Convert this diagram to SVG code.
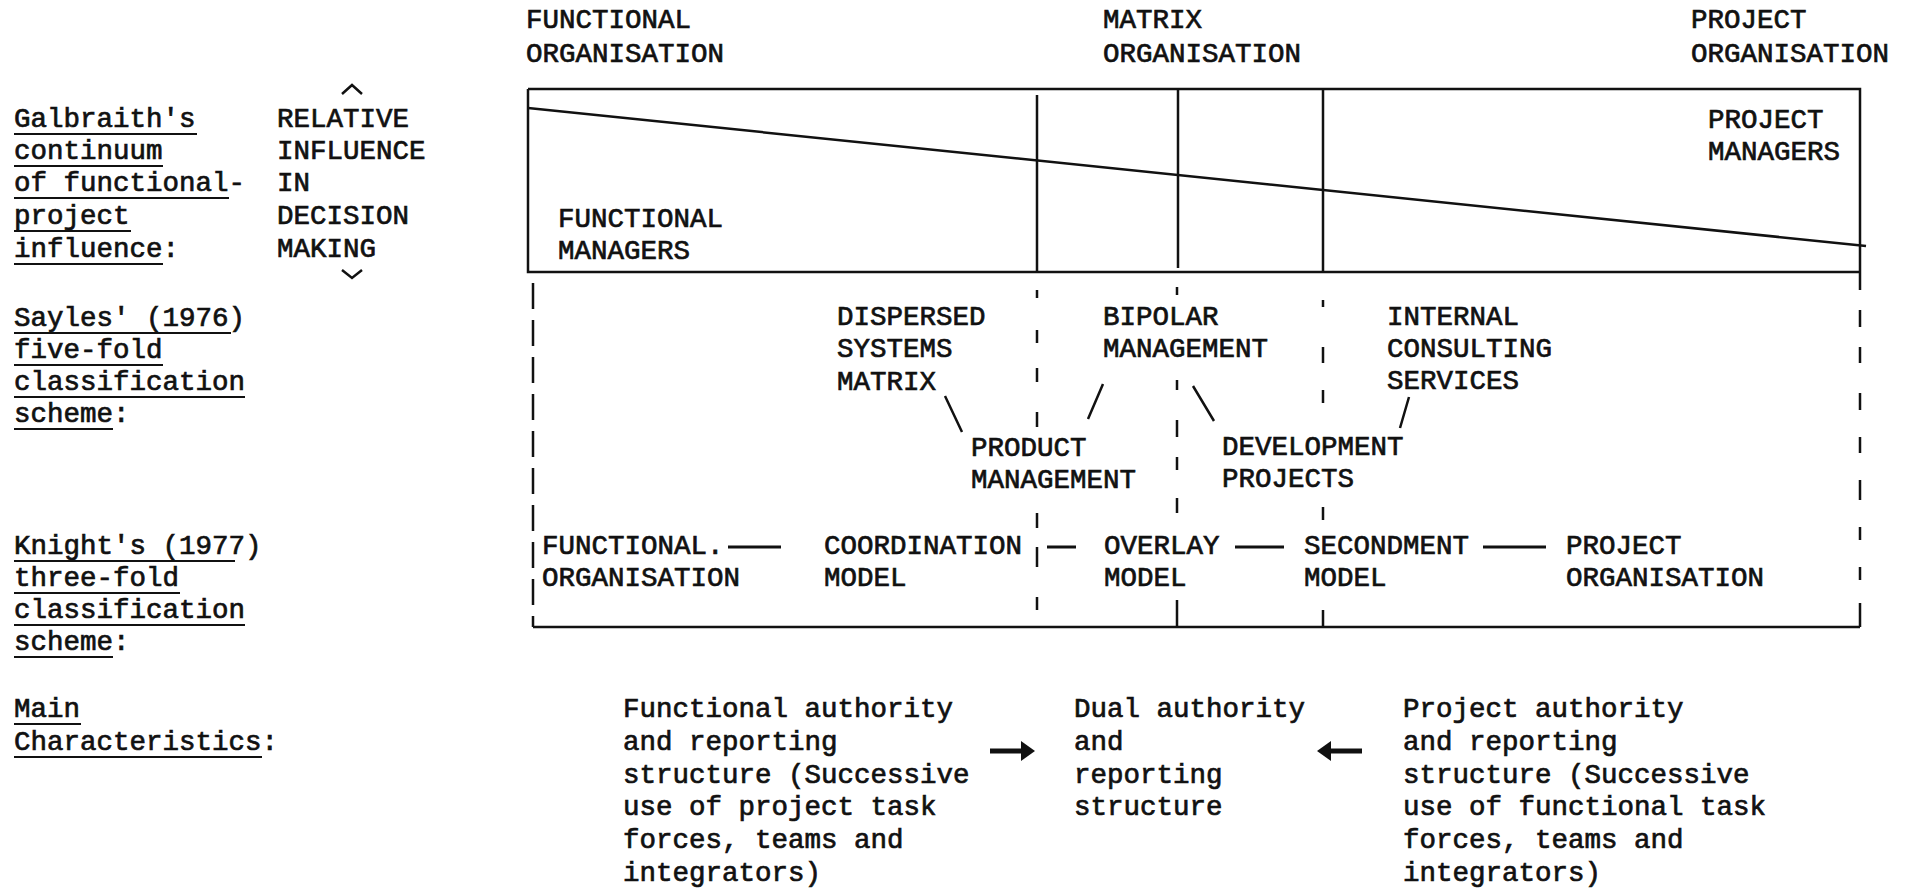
<svg xmlns="http://www.w3.org/2000/svg" width="1905" height="889" viewBox="0 0 1905 889">
<style>
text{font-family:"Liberation Mono","Courier New",monospace;font-size:27.5px;fill:#111;stroke:#111;stroke-width:0.7px}
.ln{stroke:#111;stroke-width:2.5;fill:none;stroke-linecap:butt}
.ul{stroke:#111;stroke-width:2;fill:none}
.dash{stroke:#111;stroke-width:3;fill:none}
</style>
<defs>
<marker id="ah" viewBox="0 0 14 20" refX="1" refY="10" markerWidth="14" markerHeight="20" markerUnits="userSpaceOnUse" orient="auto">
<path d="M0,0 L14,10 L0,20 Z" fill="#111"/>
</marker>
</defs>
<rect width="1905" height="889" fill="#fff"/>

<g id="labels-left">
<g id="galbraith">
<text x="14" y="127">Galbraith's</text>
<text x="14" y="159">continuum</text>
<text x="14" y="191">of functional-</text>
<text x="14" y="224">project</text>
<text x="14" y="257">influence:</text>
<path class="ul" d="M14,134H197M14,166H163M14,198H229M14,231H131M14,264H163"/>
</g>
<g id="relative">
<text x="277" y="127">RELATIVE</text>
<text x="277" y="159">INFLUENCE</text>
<text x="277" y="191">IN</text>
<text x="277" y="224">DECISION</text>
<text x="277" y="257">MAKING</text>
<polyline class="ln" points="342,94 352,85 362,94"/>
<polyline class="ln" points="342,270 352,278 362,270"/>
</g>
<g id="sayles">
<text x="14" y="326">Sayles' (1976)</text>
<text x="14" y="358">five-fold</text>
<text x="14" y="390">classification</text>
<text x="14" y="422">scheme:</text>
<path class="ul" d="M14,333H231M14,365H163M14,397H245M14,429H113"/>
</g>
<g id="knight">
<text x="14" y="554">Knight's (1977)</text>
<text x="14" y="586">three-fold</text>
<text x="14" y="618">classification</text>
<text x="14" y="650">scheme:</text>
<path class="ul" d="M14,561H235M14,593H180M14,625H245M14,657H113"/>
</g>
<g id="main">
<text x="14" y="717">Main</text>
<text x="14" y="750">Characteristics:</text>
<path class="ul" d="M14,724H81M14,757H262"/>
</g>
</g>

<g id="headers">
<g id="h-functional"><text x="526" y="28">FUNCTIONAL</text><text x="526" y="62">ORGANISATION</text></g>
<g id="h-matrix"><text x="1103" y="28">MATRIX</text><text x="1103" y="62">ORGANISATION</text></g>
<g id="h-project"><text x="1691" y="28">PROJECT</text><text x="1691" y="62">ORGANISATION</text></g>
</g>

<g id="continuum-box">
<path class="ln" d="M528,89H1860V290M528,89V272H1860" stroke-width="2.8"/>
<path class="ln" d="M1037,95V273M1178,90V268M1323,89V273"/>
<path class="ln" d="M528,108L1866,246"/>
<g id="functional-managers"><text x="558" y="227">FUNCTIONAL</text><text x="558" y="259">MANAGERS</text></g>
<g id="project-managers"><text x="1708" y="128">PROJECT</text><text x="1708" y="160">MANAGERS</text></g>
</g>

<g id="sayles-nodes">
<g id="dispersed"><text x="837" y="325">DISPERSED</text><text x="837" y="357">SYSTEMS</text><text x="837" y="390">MATRIX</text></g>
<g id="bipolar"><text x="1103" y="325">BIPOLAR</text><text x="1103" y="357">MANAGEMENT</text></g>
<g id="internal"><text x="1387" y="325">INTERNAL</text><text x="1387" y="357">CONSULTING</text><text x="1387" y="389">SERVICES</text></g>
<g id="product"><text x="971" y="456">PRODUCT</text><text x="971" y="488">MANAGEMENT</text></g>
<g id="development"><text x="1222" y="455">DEVELOPMENT</text><text x="1222" y="487">PROJECTS</text></g>
</g>

<g id="knight-nodes">
<g id="k-functional"><text x="542" y="554">FUNCTIONAL.</text><text x="542" y="586">ORGANISATION</text></g>
<g id="k-coordination"><text x="824" y="554">COORDINATION</text><text x="824" y="586">MODEL</text></g>
<g id="k-overlay"><text x="1104" y="554">OVERLAY</text><text x="1104" y="586">MODEL</text></g>
<g id="k-secondment"><text x="1304" y="554">SECONDMENT</text><text x="1304" y="586">MODEL</text></g>
<g id="k-project"><text x="1566" y="554">PROJECT</text><text x="1566" y="586">ORGANISATION</text></g>
</g>

<g id="characteristics">
<g id="c-functional">
<text x="623" y="717">Functional authority</text>
<text x="623" y="750">and reporting</text>
<text x="623" y="783">structure (Successive</text>
<text x="623" y="815">use of project task</text>
<text x="623" y="848">forces, teams and</text>
<text x="623" y="881">integrators)</text>
</g>
<g id="c-dual">
<text x="1074" y="717">Dual authority</text>
<text x="1074" y="750">and</text>
<text x="1074" y="783">reporting</text>
<text x="1074" y="815">structure</text>
</g>
<g id="c-project">
<text x="1403" y="717">Project authority</text>
<text x="1403" y="750">and reporting</text>
<text x="1403" y="783">structure (Successive</text>
<text x="1403" y="815">use of functional task</text>
<text x="1403" y="848">forces, teams and</text>
<text x="1403" y="881">integrators)</text>
</g>
</g>

<g id="connectors">
<g id="separators">
<path class="ln" d="M533,283V627" stroke-dasharray="26 11"/>
<path class="ln" d="M1037,290V298M1037,330V343M1037,368V382M1037,412V427M1037,513V528M1037,547V567M1037,597V610"/>
<path class="ln" d="M1177,287V295M1177,380V390M1177,420V437M1177,457V470M1177,498V513M1177,600V627"/>
<path class="ln" d="M1323,300V307M1323,347V363M1323,390V403M1323,507V520M1323,610V627"/>
<path class="ln" d="M1860,310V327M1860,347V363M1860,393V410M1860,437V453M1860,480V500M1860,527V540M1860,567V580M1860,603V627"/>
<path class="ln" d="M533,627H1860"/>
</g>
<g id="sayles-links">
<path class="ln" d="M945,396L962,432M1103,384L1088,419M1193,386L1214,421M1409,397L1400,428"/>
</g>
<g id="knight-links">
<path class="dash" d="M728,547H781M1047,547H1076M1235,547H1284M1483,547H1546"/>
</g>
<g id="arrows">
<line x1="990" y1="751" x2="1022" y2="751" stroke="#111" stroke-width="5" marker-end="url(#ah)"/>
<line x1="1362" y1="751" x2="1330" y2="751" stroke="#111" stroke-width="5" marker-end="url(#ah)"/>
</g>
</g>
</svg>
